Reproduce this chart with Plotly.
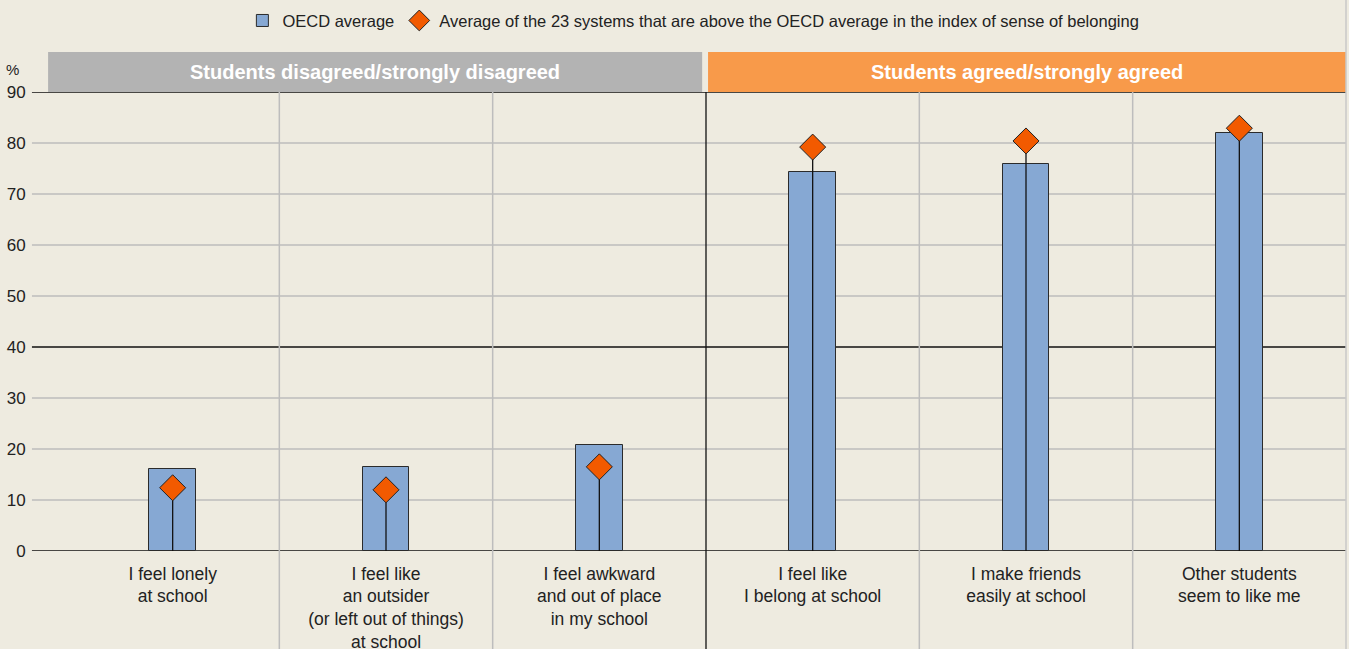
import plotly.graph_objects as go

categories = [
    "I feel lonely<br>at school",
    "I feel like<br>an outsider<br>(or left out of things)<br>at school",
    "I feel awkward<br>and out of place<br>in my school",
    "I feel like<br>I belong at school",
    "I make friends<br>easily at school",
    "Other students<br>seem to like me",
]
oecd_avg = [16.1, 16.5, 20.7, 74.3, 75.9, 82.0]
above_avg = [12.4, 12.0, 16.5, 79.2, 80.4, 82.9]
y_ticks = [0, 10, 20, 30, 40, 50, 60, 70, 80, 90]
dark_lines = [0, 40, 90]
panel_titles = ["Students disagreed/strongly disagreed", "Students agreed/strongly agreed"]

FONT = "Liberation Sans Narrow, Arial Narrow, Liberation Sans, Arial, sans-serif"
BG = "#EEEBE0"
idx = list(range(len(categories)))

fig = go.Figure()
fig.add_trace(go.Bar(
    x=idx, y=oecd_avg, name="OECD average", width=0.22,
    marker=dict(color="#86A8D3", line=dict(color="#2b2b2b", width=1)),
))
# stems
sx, sy = [], []
for i, v in zip(idx, above_avg):
    sx += [i, i, None]
    sy += [0, v, None]
fig.add_trace(go.Scatter(x=sx, y=sy, mode="lines", line=dict(color="#111", width=1.3),
                         showlegend=False, hoverinfo="skip"))
fig.add_trace(go.Scatter(
    x=idx, y=above_avg, mode="markers",
    name="Average of the 23 systems that are above the OECD average in the index of sense of belonging",
    marker=dict(symbol="diamond", size=20, color="#F25A00", line=dict(color="#222", width=1)),
))

shapes = []
# horizontal grid lines
for t in y_ticks:
    shapes.append(dict(type="line", xref="paper", yref="y", x0=-0.0266, x1=1, y0=t, y1=t,
                       line=dict(color="#111" if t in dark_lines else "#BDBDBD",
                                 width=1.3 if t in dark_lines else 1.5),
                       layer="below"))
# vertical separators
for b in [0.5, 1.5, 2.5, 3.5, 4.5]:
    dark = (b == 2.5)
    shapes.append(dict(type="line", xref="x", yref="paper", x0=b, x1=b, y0=-0.22, y1=1,
                       line=dict(color="#111" if dark else "#BDBDBD", width=1.3 if dark else 1.5),
                       layer="below"))
# right border
shapes.append(dict(type="line", xref="paper", yref="paper", x0=1.0, x1=1.0, y0=-0.22, y1=1.22,
                   line=dict(color="#C8C8C8", width=1.5)))
# header bands
shapes.append(dict(type="rect", xref="paper", yref="paper", x0=-0.014, x1=0.497, y0=1.0, y1=1.087,
                   fillcolor="#B3B3B3", line=dict(width=0), layer="below"))
shapes.append(dict(type="rect", xref="paper", yref="paper", x0=0.5016, x1=1.0, y0=1.0, y1=1.087,
                   fillcolor="#F89A4A", line=dict(width=0), layer="below"))

annotations = [
    dict(x=(375 - 66) / 1280, y=1.0435, xref="paper", yref="paper", text="<b>" + panel_titles[0] + "</b>",
         showarrow=False, font=dict(family=FONT, size=20, color="white"), xanchor="center", yanchor="middle"),
    dict(x=(1027 - 66) / 1280, y=1.0435, xref="paper", yref="paper", text="<b>" + panel_titles[1] + "</b>",
         showarrow=False, font=dict(family=FONT, size=20, color="white"), xanchor="center", yanchor="middle"),
    dict(x=-0.035, y=1.05, xref="paper", yref="paper", text="%", showarrow=False,
         font=dict(family=FONT, size=15, color="#222"), xanchor="right", yanchor="middle"),
]

fig.update_layout(
    width=1349, height=649,
    margin=dict(l=66, r=3, t=92, b=98, autoexpand=False),
    paper_bgcolor=BG, plot_bgcolor=BG,
    font=dict(family=FONT, size=17, color="#222"),
    shapes=shapes, annotations=annotations,
    showlegend=True,
    legend=dict(orientation="h", x=0.514, xanchor="center", xref="container", y=0.995, yanchor="top",
                yref="container", font=dict(family=FONT, size=16.5, color="#222"),
                bgcolor="rgba(0,0,0,0)"),
    bargap=0,
    xaxis=dict(tickmode="array", tickvals=idx, ticktext=categories, range=[-0.5, 5.5],
               showgrid=False, zeroline=False, showline=False, ticks="", ticklabelstandoff=10,
               automargin=False,
               tickfont=dict(family=FONT, size=17.5, color="#222")),
    yaxis=dict(range=[0, 90], tickmode="array", tickvals=y_ticks, showgrid=False, zeroline=False,
               showline=False, ticks="outside", ticklen=36, tickcolor="rgba(0,0,0,0)",
               automargin=False,
               tickfont=dict(family=FONT, size=17, color="#222")),
)

fig.write_html("out.html", config={"displayModeBar": False},
               post_script="document.body.style.margin='0';document.body.style.padding='0';")
